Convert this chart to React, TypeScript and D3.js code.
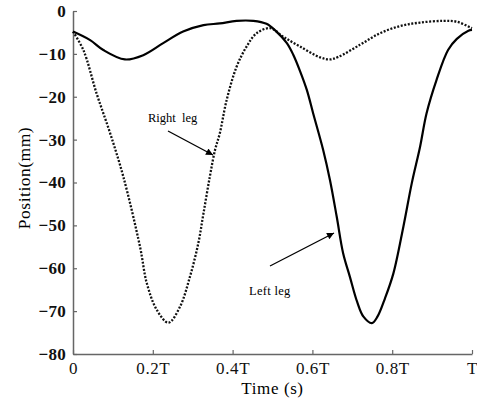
import React, { useEffect, useRef } from "react";
import * as d3 from "d3";

// time as fraction of the gait period T
const leftTime = [0, 0.043, 0.076, 0.13, 0.176, 0.226, 0.276, 0.327, 0.368, 0.41, 0.452, 0.485, 0.51, 0.536, 0.552, 0.569, 0.586, 0.602, 0.627, 0.644, 0.661, 0.677, 0.694, 0.712, 0.728, 0.749, 0.763, 0.782, 0.803, 0.828, 0.849, 0.87, 0.886, 0.911, 0.94, 0.962, 0.991, 1];
const leftPos = [-4.8, -6.8, -9.1, -11.3, -10.3, -7.5, -4.8, -3.3, -2.9, -2.3, -2.3, -3.0, -4.8, -7.5, -10.2, -14, -18.4, -23.9, -32.4, -39.4, -48, -56.5, -62, -67.8, -71.3, -72.8, -71.3, -67, -61.2, -50.3, -40.2, -31.6, -23.9, -16.1, -9.1, -6.5, -4.6, -4.4];

const rightTime = [0, 0.026, 0.059, 0.093, 0.126, 0.168, 0.185, 0.21, 0.239, 0.268, 0.293, 0.314, 0.327, 0.343, 0.356, 0.368, 0.385, 0.41, 0.435, 0.46, 0.494, 0.527, 0.569, 0.619, 0.644, 0.665, 0.719, 0.769, 0.82, 0.87, 0.928, 0.962, 0.995, 1];
const rightPos = [-4.8, -9.1, -19.2, -28.5, -38.6, -55, -63.5, -69.7, -72.7, -69, -62, -54.2, -47.2, -38.6, -32.4, -28.5, -20.8, -13, -8.3, -5.2, -4.0, -6, -8.3, -10.8, -11.3, -10.7, -7.9, -5.2, -3.5, -2.7, -2.3, -2.5, -3.8, -4.0];

const xTicks = [0, 0.2, 0.4, 0.6, 0.8, 1];
const xTickLabels = ["0", "0.2T", "0.4T", "0.6T", "0.8T", "T"];
const yTicks = [0, -10, -20, -30, -40, -50, -60, -70, -80];

const W = 477;
const H = 402;

const App = () => {
  const ref = useRef<SVGSVGElement | null>(null);

  useEffect(() => {
    if (!ref.current) return;
    const svg = d3.select(ref.current);
    svg.selectAll("*").remove();

    const margin = { top: 11, right: 5, bottom: 48, left: 73 };
    const x = d3.scaleLinear().domain([0, 1]).range([margin.left, W - margin.right]);
    const y = d3.scaleLinear().domain([-80, 0]).range([H - margin.bottom, margin.top]);
    const font = "Liberation Serif, Times New Roman, serif";

    svg
      .append("defs")
      .append("marker")
      .attr("id", "arrow")
      .attr("viewBox", "0 0 10 10")
      .attr("refX", 10)
      .attr("refY", 5)
      .attr("markerWidth", 11)
      .attr("markerHeight", 7)
      .attr("markerUnits", "userSpaceOnUse")
      .attr("orient", "auto")
      .append("path")
      .attr("d", "M0,0L10,5L0,10Z")
      .attr("fill", "#000");

    // axes
    const axisColor = "#666";
    const xAxis = svg
      .append("g")
      .attr("transform", `translate(0,${y(-80)})`)
      .call(
        d3
          .axisBottom(x)
          .tickValues(xTicks)
          .tickSizeInner(-4)
          .tickSizeOuter(0)
          .tickPadding(8)
          .tickFormat((_, i) => xTickLabels[i])
      )
      .attr("font-family", font)
      .attr("font-size", 17);
    xAxis.select(".domain").attr("stroke", axisColor).attr("stroke-width", 1.5);
    xAxis.selectAll(".tick line").attr("stroke", axisColor).attr("stroke-width", 1.2);
    xAxis.selectAll("text").attr("fill", "#111").style("letter-spacing", "0.6px");

    const yAxis = svg
      .append("g")
      .attr("transform", `translate(${x(0)},0)`)
      .call(d3.axisLeft(y).tickValues(yTicks).tickSizeInner(-4).tickSizeOuter(0).tickPadding(7))
      .attr("font-family", font)
      .attr("font-size", 17);
    yAxis.select(".domain").attr("stroke", axisColor).attr("stroke-width", 1.5);
    yAxis.selectAll(".tick line").attr("stroke", axisColor).attr("stroke-width", 1.2);
    yAxis
      .selectAll("text")
      .attr("fill", "#111")
      .attr("font-weight", "bold")
      .style("letter-spacing", "0.3px");

    // curves
    const line = d3
      .line<[number, number]>()
      .x((d) => x(d[0]))
      .y((d) => y(d[1]))
      .curve(d3.curveCatmullRom.alpha(0.5));

    const leftData = leftTime.map((t, i) => [t, leftPos[i]] as [number, number]);
    const rightData = rightTime.map((t, i) => [t, rightPos[i]] as [number, number]);

    svg
      .append("path")
      .datum(rightData)
      .attr("fill", "none")
      .attr("stroke", "#111")
      .attr("stroke-width", 2.3)
      .attr("stroke-dasharray", "2,1.6")
      .attr("d", line);

    svg
      .append("path")
      .datum(leftData)
      .attr("fill", "none")
      .attr("stroke", "#000")
      .attr("stroke-width", 2.2)
      .attr("d", line);

    // annotations
    const label = (tx: number, ty: number, s: string) =>
      svg
        .append("text")
        .attr("x", tx)
        .attr("y", ty)
        .attr("font-family", font)
        .attr("font-size", 12.5)
        .attr("xml:space", "preserve")
        .style("white-space", "pre")
        .text(s);

    label(148, 122, "Right  leg");
    svg
      .append("line")
      .attr("x1", 168)
      .attr("y1", 131)
      .attr("x2", 213)
      .attr("y2", 155)
      .attr("stroke", "#000")
      .attr("stroke-width", 1.3)
      .attr("marker-end", "url(#arrow)");

    label(249, 295, "Left leg").style("letter-spacing", "0.3px");
    svg
      .append("line")
      .attr("x1", 270)
      .attr("y1", 266)
      .attr("x2", 334)
      .attr("y2", 233)
      .attr("stroke", "#000")
      .attr("stroke-width", 1.3)
      .attr("marker-end", "url(#arrow)");

    // axis titles
    svg
      .append("text")
      .attr("x", (x(0) + x(1)) / 2)
      .attr("y", 394)
      .attr("text-anchor", "middle")
      .attr("font-family", font)
      .attr("font-size", 17)
      .style("letter-spacing", "0.6px")
      .text("Time (s)");

    svg
      .append("text")
      .attr("transform", `translate(30,178) rotate(-90)`)
      .attr("text-anchor", "middle")
      .attr("font-family", font)
      .attr("font-size", 17.5)
      .style("letter-spacing", "0.5px")
      .text("Position(mm)");
  }, []);

  return (
    <div style={{ position: "absolute", left: 0, top: 0, background: "#fff" }}>
      <svg ref={ref} width={W} height={H} style={{ display: "block" }} />
    </div>
  );
};

export default App;
